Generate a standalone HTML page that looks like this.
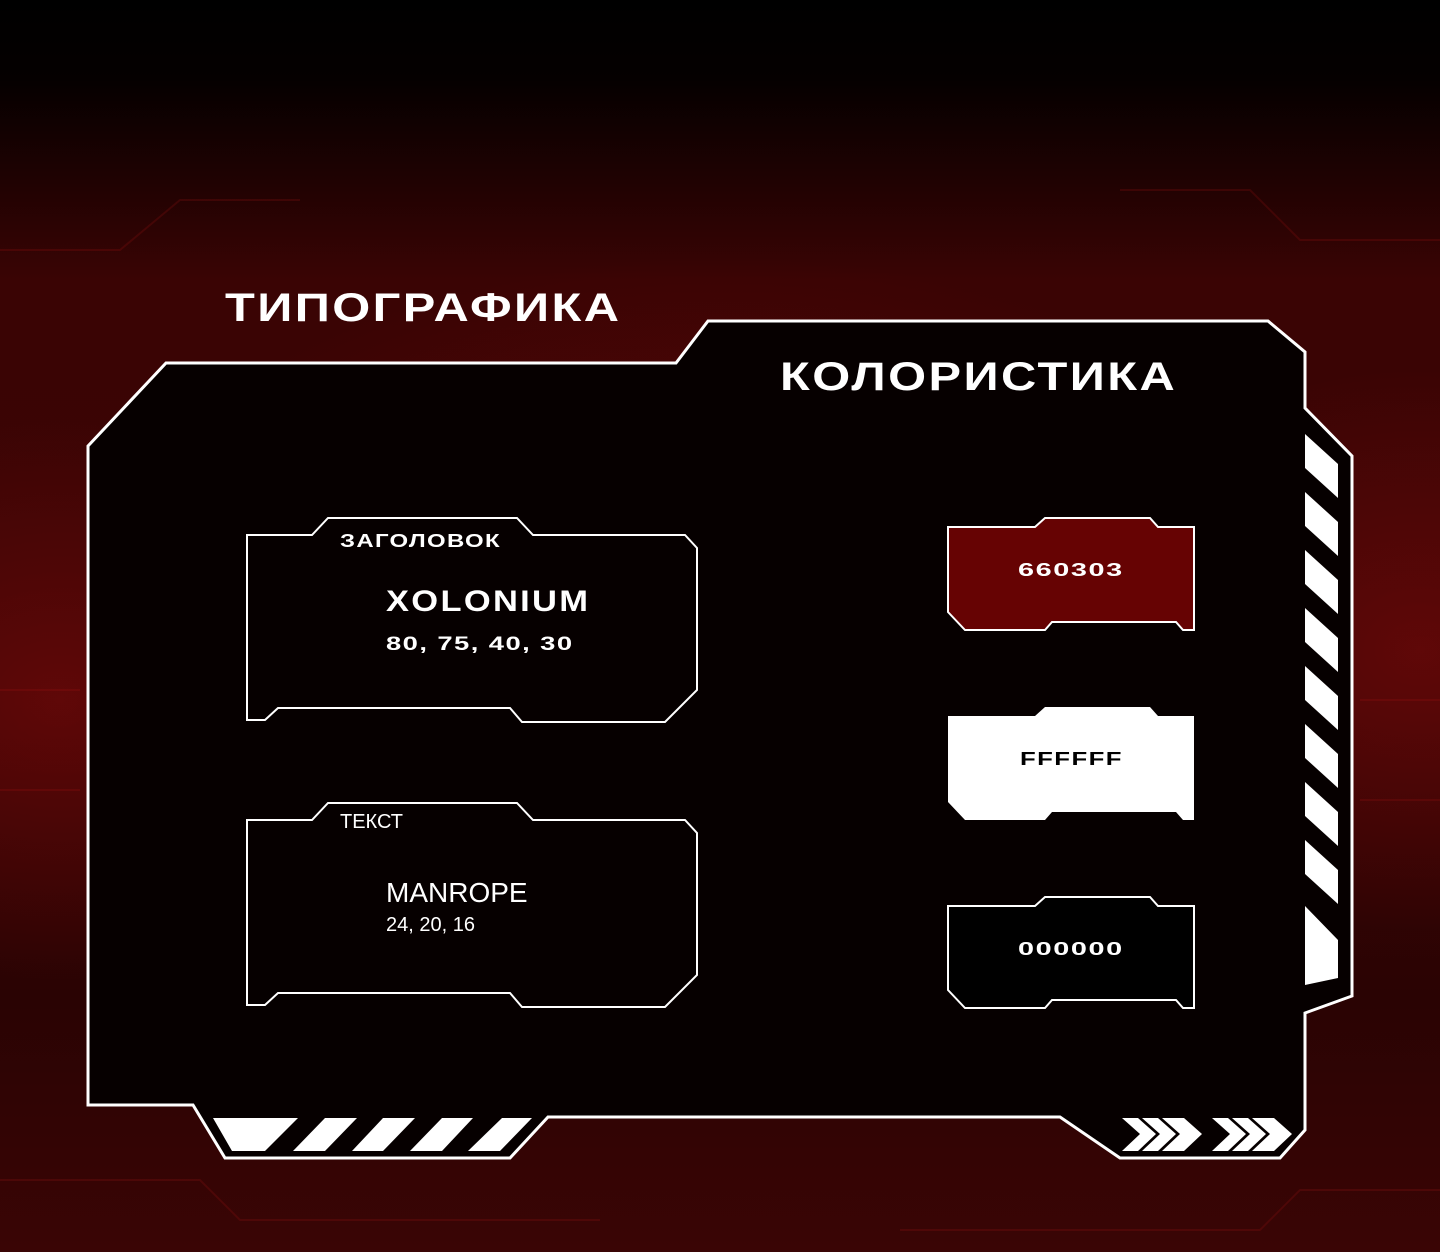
<!DOCTYPE html>
<html><head><meta charset="utf-8"><style>
html,body{margin:0;padding:0;}
body{width:1440px;height:1252px;overflow:hidden;position:relative;background:#000;font-family:"Liberation Sans",sans-serif;}
.bg{position:absolute;inset:0;background:
radial-gradient(ellipse 900px 520px at 720px 620px, rgba(120,8,8,0.55), rgba(0,0,0,0) 70%),
radial-gradient(ellipse 500px 400px at 60px 700px, rgba(130,10,10,0.5), rgba(0,0,0,0) 70%),
radial-gradient(ellipse 500px 400px at 1420px 650px, rgba(130,10,10,0.5), rgba(0,0,0,0) 70%),
linear-gradient(180deg,#000 0px,#050000 80px,#3a0404 280px,#3c0505 700px,#2a0303 1000px,#3a0505 1252px);}
svg{position:absolute;left:0;top:0;}
.t{position:absolute;color:#fff;white-space:nowrap;transform-origin:0 0;}
.w{font-weight:bold;letter-spacing:2px;}
</style></head><body>
<div class="bg"></div>
<svg width="1440" height="1252" viewBox="0 0 1440 1252">
<g stroke="rgba(170,20,20,0.2)" stroke-width="2" fill="none">
<path d="M0 250 L120 250 L180 200 L300 200"/><path d="M1440 240 L1300 240 L1250 190 L1120 190"/>
<path d="M0 690 L80 690"/><path d="M0 790 L80 790"/><path d="M1360 700 L1440 700"/><path d="M1360 800 L1440 800"/>
<path d="M0 1180 L200 1180 L240 1220 L600 1220"/><path d="M1440 1190 L1300 1190 L1260 1230 L900 1230"/>
</g>
<polygon points="88,446 166,363 676,363 708,321 1268,321 1305,352 1305,408 1352,456 1352,996 1305,1013 1305,1130 1280,1158 1120,1158 1060,1117 548,1117 510,1158 225,1158 193,1105 88,1105" fill="#060000" stroke="#fff" stroke-width="3"/>
<g fill="#fff">
<polygon points="213,1118 298,1118 265,1151 232,1151"/>
<polygon points="325,1118 357,1118 325,1151 293,1151"/>
<polygon points="383,1118 415,1118 383,1151 352,1151"/>
<polygon points="442,1118 473,1118 442,1151 410,1151"/>
<polygon points="502,1118 532,1118 500,1151 468,1151"/>
</g>
<g fill="#fff">
<polygon points="1305,434 1338,464 1338,498 1305,468"/>
<polygon points="1305,492 1338,522 1338,556 1305,526"/>
<polygon points="1305,550 1338,580 1338,614 1305,584"/>
<polygon points="1305,608 1338,638 1338,672 1305,642"/>
<polygon points="1305,666 1338,696 1338,730 1305,700"/>
<polygon points="1305,724 1338,754 1338,788 1305,758"/>
<polygon points="1305,782 1338,812 1338,846 1305,816"/>
<polygon points="1305,840 1338,870 1338,904 1305,874"/>
<polygon points="1305,906 1338,940 1338,978 1305,985"/>
</g>
<g fill="#fff">
<polygon points="1122,1118 1138,1118 1156,1134 1138,1151 1122,1151 1140,1134"/>
<polygon points="1142,1118 1158,1118 1176,1134 1158,1151 1142,1151 1160,1134"/>
<polygon points="1162,1118 1184,1118 1202,1134 1184,1151 1162,1151 1180,1134"/>
<polygon points="1212,1118 1228,1118 1246,1134 1228,1151 1212,1151 1230,1134"/>
<polygon points="1232,1118 1248,1118 1266,1134 1248,1151 1232,1151 1250,1134"/>
<polygon points="1252,1118 1274,1118 1292,1134 1274,1151 1252,1151 1270,1134"/>
</g>
<g fill="none" stroke="#fff" stroke-width="2">
<polygon points="247,535 312,535 328,518 517,518 533,535 685,535 697,548 697,690 665,722 522,722 510,708 278,708 265,720 247,720"/>
<polygon points="247,820 312,820 328,803 517,803 533,820 685,820 697,833 697,975 665,1007 522,1007 510,993 278,993 265,1005 247,1005"/>
</g>
<polygon points="948,527 1035,527 1045,518 1150,518 1158,527 1194,527 1194,630 1183,630 1176,622 1052,622 1045,630 965,630 948,612" fill="#660303" stroke="#fff" stroke-width="2"/>
<polygon points="948,716 1035,716 1045,707 1150,707 1158,716 1194,716 1194,820 1183,820 1176,812 1052,812 1045,820 965,820 948,802" fill="#fff"/>
<polygon points="948,906 1035,906 1045,897 1150,897 1158,906 1194,906 1194,1008 1183,1008 1176,1000 1052,1000 1045,1008 965,1008 948,990" fill="#000" stroke="#fff" stroke-width="2"/>
</svg>
<div class="t w" style="left:225px;top:286px;font-size:40px;transform:scaleX(1.22);">ТИПОГРАФИКА</div>
<div class="t w" style="left:780px;top:355px;font-size:40px;transform:scaleX(1.22);">КОЛОРИСТИКА</div>
<div class="t w" style="left:340px;top:531px;font-size:18px;letter-spacing:1px;transform:scaleX(1.33);">ЗАГОЛОВОК</div>
<div class="t w" style="left:386px;top:585px;font-size:30px;transform:scaleX(1.15);">XOLONIUM</div>
<div class="t w" style="left:386px;top:634px;font-size:19px;letter-spacing:1px;transform:scaleX(1.44);">80, 75, 40, 30</div>
<div class="t" style="left:340px;top:811px;font-size:20px;">ТЕКСТ</div>
<div class="t" style="left:386px;top:877px;font-size:28px;">MANROPE</div>
<div class="t" style="left:386px;top:914px;font-size:20px;">24, 20, 16</div>
<div class="t w" style="left:1018px;top:560px;font-size:18px;letter-spacing:1px;transform:scaleX(1.6);">660303</div>
<div class="t w" style="left:1020px;top:749px;font-size:18px;letter-spacing:1px;color:#000;transform:scaleX(1.43);">FFFFFF</div>
<div class="t w" style="left:1018px;top:939px;font-size:18px;letter-spacing:1px;transform:scaleX(1.6);">000000</div>
</body></html>
